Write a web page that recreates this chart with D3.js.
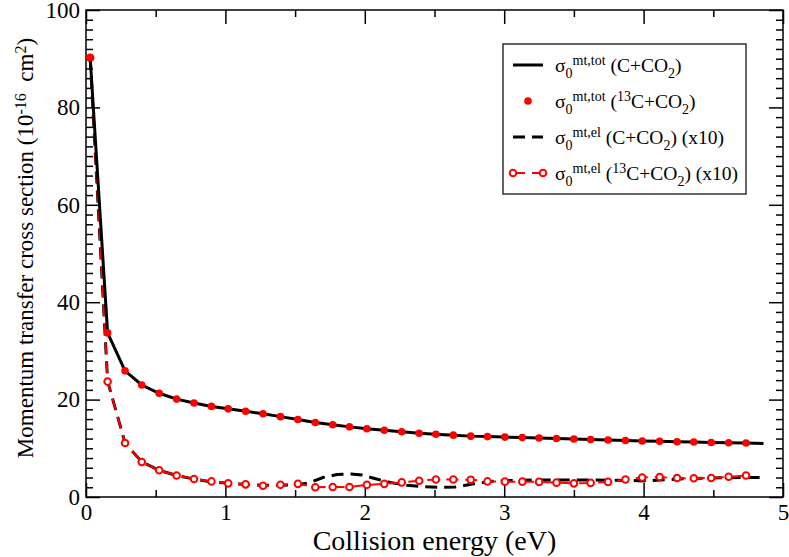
<!DOCTYPE html>
<html>
<head>
<meta charset="utf-8">
<script src="https://cdn.jsdelivr.net/npm/d3@7"></script>
<style>
  body { margin: 0; background: #fff; }
  svg { font-family: "Liberation Serif", "Times New Roman", serif; }
</style>
</head>
<body>
<svg id="chart" width="789" height="557"></svg>
<script>
// energies of the 13C points (eV)
var energy13 = [0.03, 0.155, 0.28, 0.40, 0.525, 0.65, 0.775, 0.90, 1.02, 1.145, 1.27, 1.395, 1.52,
    1.645, 1.77, 1.89, 2.015, 2.14, 2.265, 2.39, 2.51, 2.635, 2.76, 2.88, 3.005, 3.13, 3.25,
    3.375, 3.50, 3.62, 3.745, 3.87, 3.99, 4.115, 4.24, 4.36, 4.485, 4.61, 4.735];

// sigma mt,tot (13C+CO2)
var tot13 = [90.2, 33.7, 25.9, 23.0, 21.3, 20.1, 19.3, 18.6, 18.1, 17.6, 17.1, 16.5, 15.9,
    15.3, 14.85, 14.4, 14.0, 13.7, 13.4, 13.1, 12.9, 12.7, 12.5, 12.4, 12.3, 12.2, 12.1,
    12.0, 11.9, 11.8, 11.7, 11.6, 11.5, 11.45, 11.35, 11.3, 11.2, 11.15, 11.1];

// sigma mt,tot (C+CO2)
var energyTot = [0.03, 0.155, 0.28, 0.40, 0.525, 0.65, 0.775, 0.90, 1.02, 1.145, 1.27, 1.395, 1.52,
    1.645, 1.77, 1.89, 2.015, 2.14, 2.265, 2.39, 2.51, 2.635, 2.76, 2.88, 3.005, 3.13, 3.25,
    3.375, 3.50, 3.62, 3.745, 3.87, 3.99, 4.115, 4.24, 4.36, 4.485, 4.61, 4.735, 4.86];
var totC = [90.2, 33.7, 25.9, 23.0, 21.3, 20.1, 19.3, 18.6, 18.1, 17.6, 17.1, 16.5, 15.9,
    15.3, 14.85, 14.4, 14.0, 13.7, 13.4, 13.1, 12.9, 12.7, 12.5, 12.4, 12.3, 12.2, 12.1,
    12.0, 11.9, 11.8, 11.7, 11.6, 11.5, 11.45, 11.35, 11.3, 11.2, 11.15, 11.1, 11.0];

// sigma mt,el (13C+CO2) x10
var el13 = [90.2, 23.7, 11.1, 7.2, 5.5, 4.4, 3.7, 3.2, 2.8, 2.6, 2.3, 2.5, 2.7,
    2.0, 2.05, 2.05, 2.5, 2.7, 3.0, 3.35, 3.6, 3.6, 3.55, 3.2, 3.15, 3.15, 3.1,
    2.95, 2.8, 2.9, 3.1, 3.6, 4.0, 4.1, 3.9, 3.85, 3.9, 4.15, 4.4];

// sigma mt,el (C+CO2) x10
var energyElC = [0.03, 0.155, 0.28, 0.40, 0.525, 0.65, 0.775, 0.90, 1.02, 1.145, 1.27, 1.395, 1.52,
    1.60, 1.70, 1.80, 1.90, 1.98, 2.07, 2.18, 2.30, 2.42, 2.53, 2.65, 2.78, 2.90, 3.05,
    3.25, 3.50, 3.75, 3.90, 4.00, 4.12, 4.30, 4.50, 4.70, 4.84];
var elC = [90.2, 23.8, 11.1, 7.2, 5.5, 4.4, 3.7, 3.1, 2.8, 2.6, 2.4, 2.4, 2.5,
    2.9, 4.0, 4.6, 4.7, 4.5, 3.8, 3.0, 2.4, 2.1, 2.0, 2.05, 2.7, 3.2, 3.4,
    3.5, 3.5, 3.45, 3.4, 3.3, 3.5, 3.75, 3.9, 4.0, 4.0];

var xTicks = [0, 1, 2, 3, 4, 5];
var yTicks = [0, 20, 40, 60, 80, 100];

var svg = d3.select("#chart");
var mLeft = 86, mRight = 783, mTop = 10, mBottom = 497;

var x = d3.scaleLinear().domain([0, 5]).range([mLeft, mRight]);
var y = d3.scaleLinear().domain([0, 100]).range([mBottom, mTop]);

var xMinor = d3.range(0, 5.01, 0.5).filter(function (d) { return d % 1 !== 0; });
var yMinor = d3.range(0, 100.1, 2).filter(function (d) { return d % 20 !== 0; });

function styleAxis(g) {
    g.select(".domain").remove();
    g.selectAll("line").attr("stroke", "#000").attr("stroke-width", 1.5);
    g.selectAll("text").attr("fill", "#000").attr("font-size", 23)
        .attr("font-family", "Liberation Serif, serif");
}

// bottom
svg.append("g").attr("transform", "translate(0," + mBottom + ")")
    .call(d3.axisBottom(x).tickValues(xTicks).tickFormat(d3.format("d")).tickSize(-14).tickPadding(7))
    .call(styleAxis);
svg.append("g").attr("transform", "translate(0," + mBottom + ")")
    .call(d3.axisBottom(x).tickValues(xMinor).tickFormat("").tickSize(-7))
    .call(styleAxis);
// top
svg.append("g").attr("transform", "translate(0," + mTop + ")")
    .call(d3.axisTop(x).tickValues(xTicks).tickFormat("").tickSize(-14))
    .call(styleAxis);
svg.append("g").attr("transform", "translate(0," + mTop + ")")
    .call(d3.axisTop(x).tickValues(xMinor).tickFormat("").tickSize(-7))
    .call(styleAxis);
// left
svg.append("g").attr("transform", "translate(" + mLeft + ",0)")
    .call(d3.axisLeft(y).tickValues(yTicks).tickFormat(d3.format("d")).tickSize(-14).tickPadding(6))
    .call(styleAxis);
svg.append("g").attr("transform", "translate(" + mLeft + ",0)")
    .call(d3.axisLeft(y).tickValues(yMinor).tickFormat("").tickSize(-7))
    .call(styleAxis);
// right
svg.append("g").attr("transform", "translate(" + mRight + ",0)")
    .call(d3.axisRight(y).tickValues(yTicks).tickFormat("").tickSize(-14))
    .call(styleAxis);
svg.append("g").attr("transform", "translate(" + mRight + ",0)")
    .call(d3.axisRight(y).tickValues(yMinor).tickFormat("").tickSize(-7))
    .call(styleAxis);

svg.append("rect")
    .attr("x", mLeft).attr("y", mTop)
    .attr("width", mRight - mLeft).attr("height", mBottom - mTop)
    .attr("fill", "none").attr("stroke", "#000").attr("stroke-width", 1.5);

var line = d3.line()
    .x(function (d) { return x(d[0]); })
    .y(function (d) { return y(d[1]); });

var totCData = d3.zip(energyTot, totC);
var tot13Data = d3.zip(energy13, tot13);
var elCData = d3.zip(energyElC, elC);
var el13Data = d3.zip(energy13, el13);

// elastic, black dashed
svg.append("path").datum(elCData)
    .attr("d", line)
    .attr("fill", "none").attr("stroke", "#000")
    .attr("stroke-width", 3).attr("stroke-dasharray", "12,7");

// elastic 13C, red dashed with open circles
svg.append("path").datum(el13Data)
    .attr("d", line)
    .attr("fill", "none").attr("stroke", "#ff0000")
    .attr("stroke-width", 2).attr("stroke-dasharray", "12,7");
svg.selectAll(".el13").data(el13Data).enter()
    .append("circle").attr("class", "el13")
    .attr("cx", function (d) { return x(d[0]); })
    .attr("cy", function (d) { return y(d[1]); })
    .attr("r", 3.3)
    .attr("fill", "#fff").attr("stroke", "#ff0000").attr("stroke-width", 2);

// total, black solid
svg.append("path").datum(totCData)
    .attr("d", line)
    .attr("fill", "none").attr("stroke", "#000").attr("stroke-width", 3);

// total 13C, red dots
svg.selectAll(".tot13").data(tot13Data).enter()
    .append("circle").attr("class", "tot13")
    .attr("cx", function (d) { return x(d[0]); })
    .attr("cy", function (d) { return y(d[1]); })
    .attr("r", 3.8)
    .attr("fill", "#ff0000");

// rich text with sub/superscripts
function richText(sel, parts, size, small) {
    var level = 0;
    parts.forEach(function (p) {
        var target = p[1] === "sub" ? 6 : (p[1] === "sup" ? -7 : 0);
        sel.append("tspan")
            .attr("dy", target - level)
            .attr("font-size", p[1] === "n" ? size : small)
            .text(p[0]);
        level = target;
    });
}

// axis titles
svg.append("text")
    .attr("x", (mLeft + mRight) / 2).attr("y", 550)
    .attr("text-anchor", "middle").attr("font-size", 28)
    .text("Collision energy (eV)");

var yTitle = svg.append("text")
    .attr("transform", "translate(33," + 248 + ") rotate(-90)")
    .attr("text-anchor", "middle").attr("font-size", 23);
richText(yTitle, [["Momentum transfer cross section (10", "n"], ["-16", "sup"],
    ["  cm", "n"], ["2", "sup"], [")", "n"]], 23, 16);
yTitle.attr("xml:space", "preserve");

// legend
var legendLabels = [
    [["σ", "n"], ["0", "sub"], ["mt,tot", "sup"], [" (C+CO", "n"], ["2", "sub"], [")", "n"]],
    [["σ", "n"], ["0", "sub"], ["mt,tot", "sup"], [" (", "n"], ["13", "sup"], ["C+CO", "n"], ["2", "sub"], [")", "n"]],
    [["σ", "n"], ["0", "sub"], ["mt,el", "sup"], [" (C+CO", "n"], ["2", "sub"], [") (x10)", "n"]],
    [["σ", "n"], ["0", "sub"], ["mt,el", "sup"], [" (", "n"], ["13", "sup"], ["C+CO", "n"], ["2", "sub"], [") (x10)", "n"]]
];

var legend = svg.append("g");
legend.append("rect")
    .attr("x", 503).attr("y", 44).attr("width", 243).attr("height", 150)
    .attr("fill", "#fff").attr("stroke", "#333").attr("stroke-width", 1.5);

var rowY = [65, 101, 137, 173];
legendLabels.forEach(function (parts, i) {
    var cy = rowY[i];
    if (i === 0) {
        legend.append("line").attr("x1", 513).attr("x2", 543).attr("y1", cy).attr("y2", cy)
            .attr("stroke", "#000").attr("stroke-width", 3);
    } else if (i === 1) {
        legend.append("circle").attr("cx", 528).attr("cy", cy).attr("r", 3.8).attr("fill", "#ff0000");
    } else if (i === 2) {
        legend.append("line").attr("x1", 513).attr("x2", 543).attr("y1", cy).attr("y2", cy)
            .attr("stroke", "#000").attr("stroke-width", 3).attr("stroke-dasharray", "12,7");
    } else {
        legend.append("line").attr("x1", 513).attr("x2", 543).attr("y1", cy).attr("y2", cy)
            .attr("stroke", "#ff0000").attr("stroke-width", 2).attr("stroke-dasharray", "12,7");
        [513, 543].forEach(function (cx) {
            legend.append("circle").attr("cx", cx).attr("cy", cy).attr("r", 3.3)
                .attr("fill", "#fff").attr("stroke", "#ff0000").attr("stroke-width", 2);
        });
    }
    var t = legend.append("text").attr("x", 555).attr("y", cy + 7);
    richText(t, parts, 19.5, 14);
});
</script>
</body>
</html>
